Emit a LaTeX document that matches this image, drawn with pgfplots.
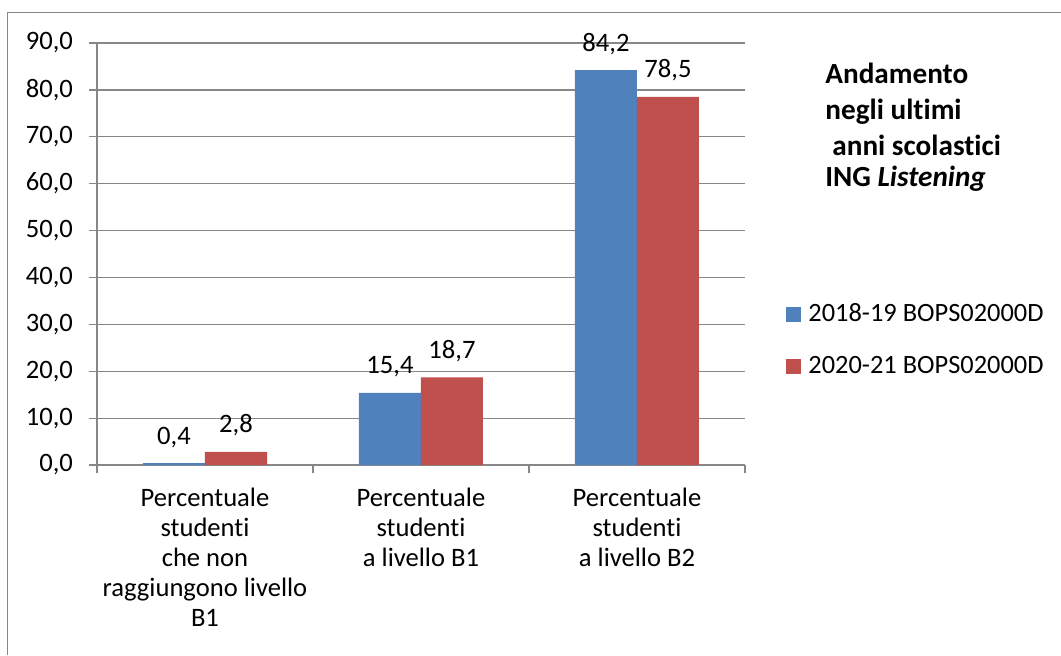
\documentclass[border=0pt]{standalone}
\usepackage{fontspec}
\setmainfont{Carlito}[Ligatures=NoCommon]
\usepackage{pgfplots}
\pgfplotsset{compat=1.18}
\definecolor{xlblue}{HTML}{4F81BD}
\definecolor{xlred}{HTML}{C0504D}
\definecolor{xlgrid}{HTML}{878787}
\begin{document}
\begin{tikzpicture}[x=1pt,y=1pt]
\useasboundingbox (0,0) rectangle (530.5,327.5);
% chart frame (only left and top edges are inside the image)
\draw[xlgrid, line width=0.6pt] (3.8,0) -- (3.8,321.2) -- (531,321.2);
\begin{axis}[
  at={(48.5pt,95pt)}, anchor=south west,
  scale only axis, width=324pt, height=211pt,
  ybar=0pt, bar width=31pt,
  xmin=-0.5, xmax=2.5, ymin=0, ymax=90,
  ytick={0,10,...,90},
  xtick={0,1,2},
  xticklabels={
    {Percentuale\\studenti\\che non\\raggiungono livello\\B1},
    {Percentuale\\studenti\\a livello B1},
    {Percentuale\\studenti\\a livello B2}},
  minor xtick={-0.5,0.5,1.5,2.5},
  major x tick style={draw=none},
  minor x tick style={xlgrid, line width=0.6pt},
  y tick style={xlgrid, line width=0.6pt},
  tick align=outside, major tick length=4pt, minor tick length=4pt,
  axis x line*=bottom, axis y line*=left,
  axis line style={xlgrid, line width=0.6pt},
  ymajorgrids, grid style={xlgrid, line width=0.6pt},
  /pgf/number format/.cd, fixed, fixed zerofill, precision=1, use comma,
  assume math mode=true, /pgfplots/.cd,
  tick label style={font=\fontsize{13.3}{15}\selectfont, text=black},
  xticklabel style={align=center, yshift=-4pt},
  yticklabel style={xshift=-4.5pt},
  nodes near coords,
  nodes near coords style={font=\fontsize{13.3}{15}\selectfont, text=black,
    anchor=base, yshift=9.5pt},
  legend style={at={(axis description cs:1.0633,0.295)}, anchor=west,
    draw=none, fill=none, inner sep=0pt, row sep=11.5pt,
    font=\fontsize{13.2}{15}\selectfont,
    nodes={inner sep=1pt, text height=9.5pt, text depth=3pt},
    /tikz/every odd column/.append style={column sep=2.5pt}},
  legend cell align=left,
  legend image code/.code={\fill[#1] (0pt,-3.75pt) rectangle (7.5pt,3.75pt);},
]
\addplot[fill=xlblue, draw=none] coordinates {(0,0.4) (1,15.4) (2,84.2)};
\addlegendentry{2018-19 BOPS02000D}
\addplot[fill=xlred, draw=none] coordinates {(0,2.8) (1,18.7) (2,78.5)};
\addlegendentry{2020-21 BOPS02000D}
\end{axis}
\begin{scope}[font=\fontsize{14.6}{17}\selectfont\bfseries]
\node[anchor=base west, inner sep=0pt] at (412.5,285.5) {Andamento};
\node[anchor=base west, inner sep=0pt] at (412.5,267.5) {negli ultimi};
\node[anchor=base west, inner sep=0pt] at (416,250) {anni scolastici};
\node[anchor=base west, inner sep=0pt] at (412.5,234) {ING \textit{Listening}};
\end{scope}
\end{tikzpicture}
\end{document}
